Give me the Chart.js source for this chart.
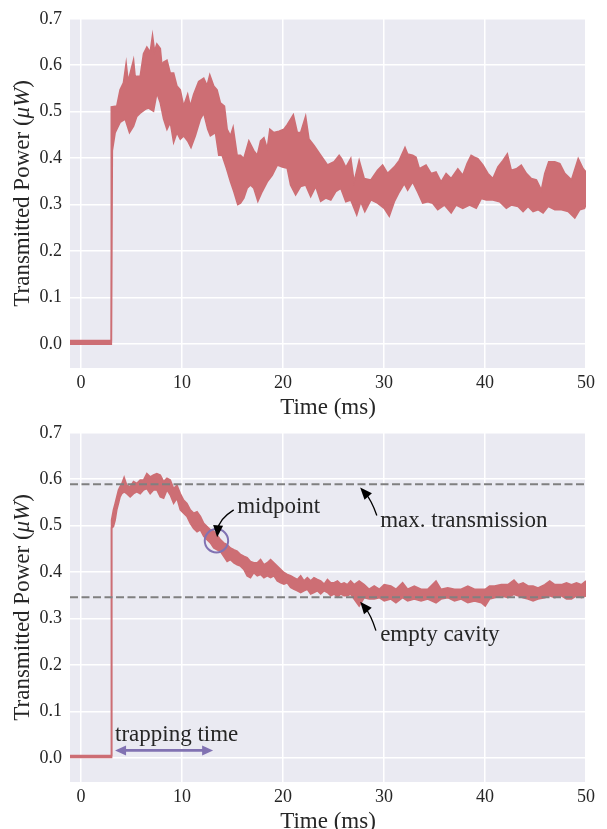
<!DOCTYPE html>
<html><head><meta charset="utf-8">
<script src="https://cdn.jsdelivr.net/npm/chart.js@4.4.1/dist/chart.umd.min.js"></script>
<style>
html,body{margin:0;padding:0;background:#fff;overflow:hidden;width:607px;height:829px;position:relative;}
canvas{position:absolute;left:0;}
#c1{top:0;} #c2{top:414px;}
</style></head><body>
<canvas id="c1" width="607" height="430"></canvas>
<canvas id="c2" width="607" height="430"></canvas>
<script>
// ---------- axes ----------
const xTicks = [0, 10, 20, 30, 40, 50];
const yTicks = [0.0, 0.1, 0.2, 0.3, 0.4, 0.5, 0.6, 0.7];
const xLabel = 'Time (ms)';
const yLabelParts = ['Transmitted Power (', 'μW', ')'];

// ---------- top panel: upper / lower edge of the noisy trace ----------
const topHiT = [-1.1, 2.99, 3.00, 3.54, 3.87, 4.20, 4.47, 4.67, 4.87, 5.20,
  5.36, 5.53, 5.86, 6.19, 6.52, 6.85, 7.08, 7.28, 7.51, 7.85,
  8.01, 8.18, 8.51, 8.84, 9.17, 9.50, 9.83, 10.16, 10.56, 10.82,
  11.15, 11.65, 12.15, 12.48, 12.75, 13.14, 13.47, 13.80, 14.20, 14.47,
  14.80, 15.06, 15.46, 15.79, 16.12, 16.62, 17.11, 17.45, 17.78, 18.11,
  18.44, 18.70, 19.10, 19.60, 20.09, 20.42, 21.02, 21.42, 21.75, 22.24,
  22.57, 23.07, 23.73, 24.40, 25.06, 25.56, 25.80, 26.22, 26.71, 27.04,
  27.54, 28.04, 28.70, 29.36, 29.86, 30.36, 31.02, 31.51, 32.08, 32.34,
  32.84, 33.17, 33.50, 34.16, 34.66, 35.15, 35.65, 36.15, 36.65, 37.31,
  37.80, 38.23, 38.63, 38.96, 39.29, 39.79, 40.29, 40.78, 41.28, 41.78,
  42.21, 42.60, 43.10, 43.59, 44.09, 44.59, 45.09, 45.58, 45.92, 46.31,
  46.91, 47.41, 47.90, 48.56, 49.23, 49.72, 50.00];
const topHiV = [0.007, 0.007, 0.510, 0.512, 0.547, 0.562, 0.604, 0.565, 0.583, 0.611,
  0.575, 0.576, 0.576, 0.625, 0.639, 0.628, 0.664, 0.630, 0.646, 0.636,
  0.600, 0.607, 0.611, 0.583, 0.583, 0.555, 0.547, 0.512, 0.537, 0.512,
  0.537, 0.565, 0.572, 0.556, 0.579, 0.555, 0.547, 0.519, 0.512, 0.462,
  0.448, 0.466, 0.406, 0.406, 0.399, 0.437, 0.416, 0.406, 0.437, 0.444,
  0.420, 0.462, 0.455, 0.458, 0.462, 0.472, 0.493, 0.455, 0.455, 0.490,
  0.441, 0.427, 0.406, 0.385, 0.392, 0.406, 0.399, 0.380, 0.399, 0.349,
  0.395, 0.356, 0.353, 0.374, 0.385, 0.367, 0.381, 0.395, 0.423, 0.409,
  0.406, 0.402, 0.377, 0.385, 0.367, 0.370, 0.349, 0.367, 0.356, 0.377,
  0.363, 0.388, 0.406, 0.402, 0.399, 0.385, 0.367, 0.356, 0.381, 0.395,
  0.409, 0.374, 0.377, 0.385, 0.367, 0.356, 0.353, 0.331, 0.367, 0.392,
  0.392, 0.388, 0.367, 0.353, 0.399, 0.377, 0.370];
const topLoT = [-1.1, 3.00, 3.10, 3.38, 3.87, 4.37, 4.80, 5.20, 5.53, 5.86,
  6.36, 6.69, 7.18, 7.51, 7.85, 8.18, 8.51, 8.84, 9.17, 9.50,
  9.83, 10.16, 10.56, 10.89, 11.32, 11.82, 12.15, 12.55, 12.81, 13.31,
  13.64, 13.97, 14.40, 14.80, 15.13, 15.52, 15.79, 16.12, 16.45, 16.78,
  17.11, 17.51, 17.94, 18.44, 18.93, 19.43, 19.93, 20.42, 20.75, 21.25,
  21.75, 22.24, 22.74, 23.24, 23.73, 24.23, 24.73, 25.22, 25.72, 26.22,
  26.71, 27.30, 27.70, 28.10, 28.70, 29.36, 30.02, 30.52, 31.02, 31.51,
  32.01, 32.34, 32.84, 33.33, 33.83, 34.33, 34.82, 35.32, 35.98, 36.65,
  37.14, 37.80, 38.47, 39.13, 39.63, 40.12, 40.78, 41.45, 42.11, 42.60,
  43.27, 43.77, 44.26, 44.76, 45.25, 45.75, 46.25, 46.91, 47.57, 48.23,
  48.89, 49.39, 49.85, 50.00];
const topLoV = [-0.001, -0.001, 0.416, 0.455, 0.477, 0.484, 0.455, 0.469, 0.490, 0.497,
  0.505, 0.508, 0.501, 0.540, 0.519, 0.484, 0.462, 0.477, 0.434, 0.455,
  0.441, 0.448, 0.437, 0.423, 0.448, 0.484, 0.497, 0.462, 0.448, 0.455,
  0.406, 0.406, 0.378, 0.349, 0.328, 0.300, 0.303, 0.314, 0.335, 0.342,
  0.335, 0.307, 0.328, 0.349, 0.363, 0.385, 0.381, 0.378, 0.342, 0.321,
  0.339, 0.342, 0.317, 0.339, 0.307, 0.314, 0.310, 0.328, 0.335, 0.306,
  0.310, 0.278, 0.306, 0.285, 0.310, 0.303, 0.292, 0.275, 0.306, 0.327,
  0.345, 0.331, 0.349, 0.327, 0.303, 0.306, 0.303, 0.289, 0.299, 0.282,
  0.299, 0.292, 0.299, 0.292, 0.313, 0.310, 0.310, 0.306, 0.292, 0.299,
  0.296, 0.285, 0.296, 0.285, 0.289, 0.282, 0.296, 0.289, 0.289, 0.285,
  0.271, 0.289, 0.292, 0.300];

// ---------- bottom panel: upper / lower edge of the averaged trace ----------
const botT = [-1.1, 2.99, 3.00, 3.05, 3.21, 3.38, 3.54, 3.71, 3.87, 4.04,
  4.27, 4.53, 4.87, 5.20, 5.53, 5.86, 6.19, 6.52, 6.85, 7.18,
  7.51, 7.85, 8.18, 8.51, 8.84, 9.17, 9.50, 9.83, 10.16, 10.49,
  10.82, 11.15, 11.49, 11.82, 12.15, 12.48, 12.81, 13.14, 13.47, 13.80,
  14.13, 14.47, 14.80, 15.13, 15.46, 15.79, 16.12, 16.45, 16.78, 17.11,
  17.45, 17.78, 18.11, 18.44, 18.77, 19.10, 19.43, 19.76, 20.09, 20.42,
  20.75, 21.09, 21.42, 21.75, 22.08, 22.41, 22.74, 23.07, 23.40, 23.73,
  24.07, 24.40, 24.73, 25.06, 25.39, 25.72, 26.05, 26.38, 26.70, 27.04,
  27.54, 28.04, 28.53, 29.03, 29.53, 30.02, 30.68, 31.18, 31.84, 32.34,
  33.00, 33.67, 34.33, 35.15, 35.65, 36.31, 36.98, 37.64, 38.30, 38.96,
  39.63, 40.02, 40.45, 40.95, 41.61, 42.27, 42.87, 43.27, 43.77, 44.26,
  44.76, 45.25, 45.92, 46.41, 46.91, 47.57, 48.07, 48.56, 49.06, 49.56,
  50.00];
const botHi = [0.005, 0.005, 0.509, 0.512, 0.534, 0.548, 0.562, 0.577, 0.584, 0.590,
  0.604, 0.587, 0.584, 0.595, 0.591, 0.598, 0.598, 0.612, 0.605, 0.609,
  0.612, 0.609, 0.595, 0.602, 0.598, 0.580, 0.587, 0.569, 0.555, 0.548,
  0.534, 0.527, 0.530, 0.520, 0.505, 0.498, 0.491, 0.488, 0.480, 0.470,
  0.463, 0.459, 0.452, 0.448, 0.445, 0.438, 0.434, 0.431, 0.423, 0.420,
  0.420, 0.427, 0.416, 0.420, 0.427, 0.420, 0.413, 0.406, 0.399, 0.395,
  0.392, 0.388, 0.384, 0.392, 0.381, 0.388, 0.381, 0.388, 0.384, 0.381,
  0.374, 0.384, 0.377, 0.377, 0.381, 0.374, 0.377, 0.373, 0.381, 0.373,
  0.381, 0.373, 0.363, 0.370, 0.363, 0.373, 0.370, 0.363, 0.377, 0.363,
  0.370, 0.363, 0.363, 0.381, 0.363, 0.366, 0.363, 0.363, 0.370, 0.363,
  0.363, 0.363, 0.370, 0.370, 0.373, 0.373, 0.383, 0.373, 0.377, 0.370,
  0.370, 0.366, 0.373, 0.381, 0.373, 0.373, 0.377, 0.373, 0.377, 0.373,
  0.381];
const botLo = [0.001, 0.001, 0.001, 0.495, 0.498, 0.512, 0.534, 0.548, 0.562, 0.569,
  0.573, 0.569, 0.562, 0.569, 0.573, 0.569, 0.577, 0.580, 0.569, 0.577,
  0.577, 0.562, 0.559, 0.577, 0.566, 0.548, 0.559, 0.534, 0.527, 0.520,
  0.505, 0.494, 0.487, 0.491, 0.477, 0.470, 0.463, 0.452, 0.448, 0.445,
  0.434, 0.423, 0.427, 0.420, 0.416, 0.413, 0.406, 0.392, 0.388, 0.399,
  0.392, 0.395, 0.388, 0.392, 0.388, 0.392, 0.381, 0.377, 0.374, 0.377,
  0.367, 0.363, 0.360, 0.356, 0.360, 0.363, 0.353, 0.356, 0.360, 0.353,
  0.360, 0.356, 0.349, 0.353, 0.346, 0.353, 0.349, 0.349, 0.353, 0.342,
  0.327, 0.345, 0.342, 0.342, 0.345, 0.338, 0.342, 0.334, 0.345, 0.338,
  0.342, 0.338, 0.342, 0.334, 0.342, 0.345, 0.338, 0.342, 0.334, 0.338,
  0.334, 0.327, 0.342, 0.345, 0.349, 0.345, 0.352, 0.349, 0.345, 0.342,
  0.338, 0.342, 0.345, 0.349, 0.345, 0.349, 0.342, 0.342, 0.349, 0.345,
  0.349];

// ---------- annotations of the bottom panel ----------
const refLevels = [0.589, 0.346];          // max. transmission, empty cavity
const midpointT = 13.41, midpointV = 0.4675;
const annoTexts = ['midpoint', 'max. transmission', 'empty cavity', 'trapping time'];
const annoTextT = [15.46, 29.62, 29.62, 3.37];
const annoTextV = [0.5395, 0.511, 0.265, 0.0496];
const arrowFromT = [15.12, 29.29, 29.20];
const arrowFromV = [0.534, 0.522, 0.274];
const arrowToT = [13.48, 27.64, 27.64];
const arrowToV = [0.475, 0.582, 0.336];
const arrowBend = [0.25, 0.1, 0.1];
const trapT = [3.37, 13.08];
const trapV = 0.016;

// ---------- styling ----------
const SIG = '#CD6E74', PURPLE = '#8172B2', BG = '#EAEAF2', TXT = '#262626', DASH = '#808080';
const FONT = '"Liberation Serif", "Times New Roman", serif';
const X_MIN = -1.09, X_MAX = 50, Y_MIN = -0.052, Y_MAX = 0.7;

const pts = (ts, vs) => ts.map((t, i) => ({x: t, y: vs[i]}));

const bgPlugin = {
  id: 'bgArea',
  beforeDraw(chart) {
    const {ctx, chartArea: a} = chart;
    ctx.save();
    ctx.fillStyle = BG;
    ctx.fillRect(a.left, a.top, a.right - a.left, a.bottom - a.top);
    ctx.restore();
  }
};

const yTitlePlugin = {
  id: 'yTitle',
  afterDraw(chart) {
    const {ctx, chartArea: a} = chart;
    const fonts = [`23px ${FONT}`, `italic 23px ${FONT}`, `23px ${FONT}`];
    ctx.save();
    let total = 0;
    const widths = yLabelParts.map((s, i) => { ctx.font = fonts[i]; const w = ctx.measureText(s).width; total += w; return w; });
    ctx.translate(23, (a.top + a.bottom) / 2);
    ctx.rotate(-Math.PI / 2);
    ctx.fillStyle = TXT;
    ctx.textBaseline = 'middle';
    ctx.textAlign = 'left';
    let x = -total / 2;
    yLabelParts.forEach((s, i) => { ctx.font = fonts[i]; ctx.fillText(s, x, 0); x += widths[i]; });
    ctx.restore();
  }
};

function head(ctx, x, y, ux, uy, len, w) {
  const L = Math.hypot(ux, uy); ux /= L; uy /= L;
  const bx = x - ux * len, by = y - uy * len;
  ctx.beginPath();
  ctx.moveTo(x, y);
  ctx.lineTo(bx - uy * w, by + ux * w);
  ctx.lineTo(bx + uy * w, by - ux * w);
  ctx.closePath();
  ctx.fill();
}
function arrow(ctx, x1, y1, x2, y2, rad, color, lw, len, w, both) {
  const mx = (x1 + x2) / 2, my = (y1 + y2) / 2, dx = x2 - x1, dy = y2 - y1;
  const cx = mx - rad * dy, cy = my + rad * dx;
  ctx.save();
  ctx.strokeStyle = color; ctx.fillStyle = color; ctx.lineWidth = lw;
  const e = (px, py, qx, qy) => { const L = Math.hypot(px - qx, py - qy); return [px + (qx - px) / L * len * 0.6, py + (qy - py) / L * len * 0.6]; };
  const [ex, ey] = e(x2, y2, cx, cy);
  const [sx, sy] = both ? e(x1, y1, cx, cy) : [x1, y1];
  ctx.beginPath(); ctx.moveTo(sx, sy); ctx.quadraticCurveTo(cx, cy, ex, ey); ctx.stroke();
  head(ctx, x2, y2, x2 - cx, y2 - cy, len, w);
  if (both) head(ctx, x1, y1, x1 - cx, y1 - cy, len, w);
  ctx.restore();
}

const annoPlugin = {
  id: 'anno',
  afterDatasetsDraw(chart) {
    const {ctx} = chart;
    const xs = chart.scales.x, ys = chart.scales.y;
    const X = v => xs.getPixelForValue(v), Y = v => ys.getPixelForValue(v);
    ctx.save();
    ctx.strokeStyle = PURPLE; ctx.lineWidth = 2;
    ctx.beginPath(); ctx.arc(X(midpointT), Y(midpointV), 11.7, 0, Math.PI * 2); ctx.stroke();
    for (let i = 0; i < arrowFromT.length; i++) {
      arrow(ctx, X(arrowFromT[i]), Y(arrowFromV[i]), X(arrowToT[i]), Y(arrowToV[i]), arrowBend[i], '#000', 1.3, 12, 5, false);
    }
    arrow(ctx, X(trapT[0]), Y(trapV), X(trapT[1]), Y(trapV), 0, PURPLE, 2.6, 11, 5, true);
    ctx.fillStyle = TXT; ctx.font = `23px ${FONT}`; ctx.textAlign = 'left'; ctx.textBaseline = 'middle';
    annoTexts.forEach((s, i) => ctx.fillText(s, X(annoTextT[i]), Y(annoTextV[i])));
    ctx.restore();
  }
};

function makeChart(id, datasets, plugins) {
  return new Chart(document.getElementById(id), {
    type: 'line',
    data: {datasets},
    plugins: [bgPlugin, yTitlePlugin].concat(plugins),
    options: {
      responsive: false, animation: false, devicePixelRatio: 1,
      layout: {padding: {left: 0, right: 21, top: 15, bottom: 0}},
      plugins: {legend: {display: false}, tooltip: {enabled: false}},
      elements: {point: {radius: 0}, line: {tension: 0}},
      scales: {
        x: {
          type: 'linear', min: X_MIN, max: X_MAX,
          afterBuildTicks: s => { s.ticks = xTicks.map(v => ({value: v})); },
          afterFit: s => { s.height = 62; },
          grid: {color: '#FFFFFF', lineWidth: 1.5, drawTicks: false},
          border: {display: false},
          ticks: {padding: 4, color: TXT, font: {family: FONT, size: 18}, callback: v => String(v), maxRotation: 0},
          title: {display: true, text: xLabel, color: TXT, font: {family: FONT, size: 23}, padding: {top: 0, bottom: 8}}
        },
        y: {
          type: 'linear', min: Y_MIN, max: Y_MAX,
          afterBuildTicks: s => { s.ticks = yTicks.map(v => ({value: v})); },
          afterFit: s => { s.width = 70; },
          grid: {color: '#FFFFFF', lineWidth: 1.5, drawTicks: false},
          border: {display: false},
          ticks: {padding: 8, color: TXT, font: {family: FONT, size: 18}, callback: v => Number(v).toFixed(1)}
        }
      }
    }
  });
}

const sigStyle = {borderColor: SIG, backgroundColor: SIG, borderWidth: 1.6, pointRadius: 0};

makeChart('c1', [
  Object.assign({label: 'upper', data: pts(topHiT, topHiV), fill: '+1', order: 1}, sigStyle),
  Object.assign({label: 'lower', data: pts(topLoT, topLoV), fill: false, order: 1}, sigStyle)
], []);

makeChart('c2', [
  {label: 'max. transmission', data: [{x: X_MIN, y: refLevels[0]}, {x: X_MAX, y: refLevels[0]}],
   borderColor: DASH, borderWidth: 2, borderDash: [8, 3.5], fill: false, pointRadius: 0, order: 0},
  {label: 'empty cavity', data: [{x: X_MIN, y: refLevels[1]}, {x: X_MAX, y: refLevels[1]}],
   borderColor: DASH, borderWidth: 2, borderDash: [8, 3.5], fill: false, pointRadius: 0, order: 0},
  Object.assign({label: 'upper', data: pts(botT, botHi), fill: '+1', order: 1}, sigStyle),
  Object.assign({label: 'lower', data: pts(botT, botLo), fill: false, order: 1}, sigStyle)
], [annoPlugin]);
</script>
</body></html>
